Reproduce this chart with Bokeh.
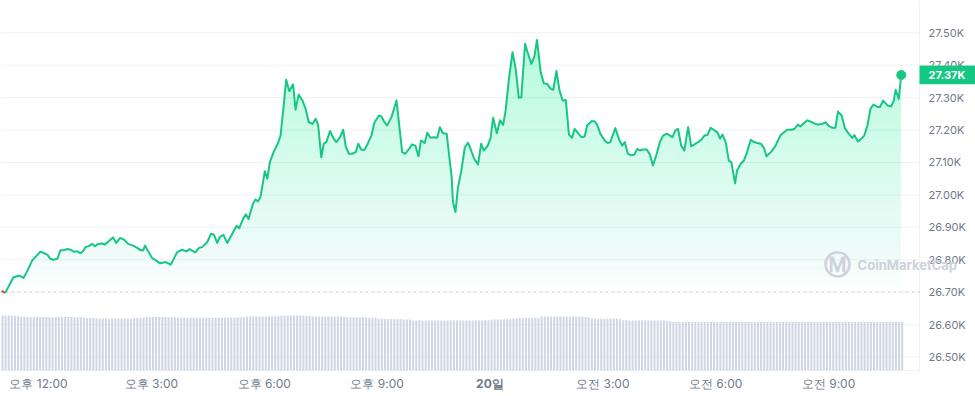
import numpy as np
from bokeh.plotting import figure
from bokeh.models import Range1d, Label
from bokeh.core.properties import value
from bokeh.embed import file_html
from bokeh.resources import INLINE

# ---- data (minutes after 11:00, USD price) ----
t_min = [1, 7, 20, 26, 30, 36, 42, 50, 55, 63, 69, 74, 79, 84, 90, 95, 100, 106, 111, 116,
         122, 127, 132, 135, 140, 146, 150, 155, 161, 166, 170, 179, 184, 190, 196, 203, 212, 218, 223, 227,
         230, 234, 241, 247, 254, 263, 271, 281, 289, 296, 301, 310, 316, 321, 329, 335, 340, 345, 349, 355,
         361, 369, 376, 380, 387, 391, 395, 402, 406, 410, 414, 421, 425, 429, 435, 442, 446, 450, 455, 460,
         466, 470, 475, 481, 486, 491, 497, 502, 506, 511, 515, 519, 525, 530, 535, 541, 546, 550, 555, 560,
         566, 570, 575, 580, 585, 591, 596, 603, 607, 611, 616, 623, 631, 640, 645, 651, 656, 661, 666, 670,
         676, 680, 685, 691, 696, 700, 705, 711, 714, 719, 721, 725, 729, 734, 740, 745, 750, 755, 761, 766,
         770, 776, 781, 785, 791, 796, 801, 805, 810, 816, 821, 826, 830, 836, 840, 846, 851, 855, 861, 866,
         871, 877, 881, 886, 891, 896, 901, 906, 911, 915, 921, 926, 931, 935, 942, 947, 951, 956, 963, 968,
         972, 980, 986, 991, 995, 1000, 1005, 1010, 1015, 1019, 1024, 1030, 1035, 1040, 1046, 1051, 1056, 1062, 1071, 1076,
         1080, 1085, 1090, 1096, 1101, 1106, 1112, 1117, 1122, 1127, 1132, 1137, 1143, 1147, 1151, 1156, 1161, 1165, 1171, 1174,
         1180, 1185, 1190, 1196, 1201, 1206, 1212, 1217, 1221, 1228, 1235, 1243, 1249, 1254, 1261, 1266, 1271, 1275, 1286, 1294,
         1302, 1310, 1315, 1321, 1326, 1331, 1335, 1341, 1346, 1352, 1358, 1361, 1367, 1372, 1377, 1382, 1387, 1392, 1398, 1402,
         1407, 1414, 1420, 1424, 1427, 1432, 1436]

price = [26704, 26698, 26746, 26749, 26751, 26744, 26765, 26798, 26808, 26825, 26820, 26816, 26803, 26800, 26803, 26829, 26829, 26833, 26831, 26825,
         26826, 26820, 26829, 26839, 26842, 26849, 26842, 26849, 26850, 26847, 26854, 26869, 26852, 26867, 26863, 26849, 26843, 26836, 26829, 26829,
         26844, 26829, 26806, 26798, 26789, 26793, 26785, 26823, 26831, 26826, 26833, 26823, 26837, 26839, 26854, 26880, 26877, 26852, 26870, 26877,
         26852, 26880, 26905, 26897, 26929, 26940, 26926, 26973, 26986, 26980, 26993, 27073, 27050, 27101, 27132, 27160, 27183, 27255, 27355, 27320,
         27341, 27263, 27310, 27291, 27266, 27224, 27219, 27235, 27216, 27116, 27158, 27163, 27197, 27176, 27163, 27178, 27201, 27150, 27127, 27127,
         27132, 27158, 27139, 27139, 27158, 27183, 27224, 27245, 27242, 27227, 27214, 27240, 27291, 27132, 27127, 27142, 27156, 27152, 27119, 27168,
         27160, 27192, 27176, 27178, 27176, 27209, 27190, 27189, 27137, 27055, 26978, 26947, 27024, 27070, 27147, 27161, 27137, 27111, 27094, 27158,
         27137, 27150, 27175, 27238, 27190, 27230, 27216, 27260, 27353, 27440, 27389, 27300, 27301, 27466, 27440, 27404, 27427, 27478, 27378, 27344,
         27343, 27327, 27324, 27382, 27322, 27291, 27293, 27186, 27176, 27204, 27189, 27178, 27180, 27214, 27227, 27227, 27217, 27189, 27168, 27160,
         27163, 27206, 27170, 27152, 27163, 27127, 27122, 27124, 27142, 27137, 27140, 27140, 27125, 27091, 27127, 27163, 27183, 27189, 27178, 27199,
         27204, 27152, 27137, 27209, 27150, 27156, 27163, 27170, 27183, 27185, 27207, 27201, 27192, 27174, 27186, 27163, 27106, 27101, 27036, 27075,
         27096, 27106, 27132, 27170, 27163, 27160, 27158, 27145, 27119, 27132, 27150, 27183, 27193, 27201, 27201, 27204, 27217, 27211, 27230, 27224,
         27217, 27219, 27224, 27212, 27207, 27207, 27257, 27245, 27206, 27189, 27176, 27185, 27165, 27173, 27183, 27214, 27266, 27279, 27271, 27271,
         27291, 27276, 27273, 27291, 27324, 27296, 27370]

# 5-minute volume bars (relative units)
vol = [15.2, 15.2, 15.2, 15.1, 15.1, 15.0,
       14.8, 14.8, 14.8, 14.7, 14.8, 14.8, 14.8, 14.8, 14.8, 14.7, 14.7, 14.8, 14.8, 14.8, 14.8, 14.8, 14.8, 14.7, 14.7, 14.7, 14.6, 14.6, 14.6,
       14.5, 14.4, 14.4, 14.4, 14.4, 14.3, 14.4, 14.4, 14.4, 14.4, 14.4, 14.4, 14.4, 14.5, 14.5, 14.5, 14.6,
       14.8, 14.8, 14.8, 14.8, 14.8, 14.8, 14.8, 14.7, 14.7, 14.7, 14.7,
       14.6, 14.6, 14.6, 14.6, 14.6, 14.6, 14.6, 14.6, 14.6, 14.6, 14.6, 14.6, 14.6, 14.6, 14.6, 14.6, 14.6, 14.6, 14.7, 14.7, 14.8,
       14.9, 14.9, 14.9, 14.9, 14.9, 14.9, 14.9, 14.9, 14.9, 15.0, 15.0,
       15.2, 15.2, 15.2, 15.2, 15.2, 15.2, 15.2, 15.2, 15.1, 15.1,
       14.9, 14.9, 14.9, 14.9, 14.9, 14.9, 14.9, 14.9, 14.9, 14.9, 14.8,
       14.7, 14.7, 14.7, 14.7, 14.7, 14.7, 14.7, 14.6, 14.6, 14.6,
       14.3, 14.3, 14.2, 14.2, 14.2, 14.2, 14.2, 14.2, 14.1, 14.1, 14.1,
       13.8, 13.8, 13.9, 13.8, 13.8, 13.8, 13.7, 13.8, 13.8, 13.8, 13.8, 13.8, 13.8, 13.8, 13.8, 13.8, 13.8, 13.8, 13.8, 13.8, 13.8, 13.8, 13.8, 13.9, 13.9,
       14.1, 14.1, 14.1, 14.1, 14.1, 14.2, 14.2,
       14.4, 14.4, 14.5, 14.5, 14.5, 14.5, 14.5, 14.6, 14.6,
       14.9, 14.9, 14.9, 14.9, 14.9, 14.9, 14.9, 14.9, 14.9, 14.9, 14.9, 14.9, 14.9, 14.9, 14.8, 14.7,
       14.4, 14.3, 14.3, 14.3, 14.3, 14.3, 14.3, 14.3, 14.3, 14.2,
       13.9, 13.9, 13.8, 13.8, 13.8, 13.8, 13.8, 13.8, 13.8, 13.8, 13.8, 13.8, 13.8, 13.8, 13.7, 13.6,
       13.4, 13.4, 13.4, 13.4, 13.4, 13.4, 13.4, 13.4, 13.4, 13.4, 13.4, 13.4, 13.4, 13.4, 13.4, 13.4, 13.4, 13.4, 13.4, 13.4,
       13.4, 13.4, 13.4, 13.4, 13.4, 13.4, 13.4, 13.4, 13.4, 13.4, 13.4, 13.4, 13.4, 13.4, 13.4, 13.4, 13.4, 13.4, 13.4, 13.4,
       13.4, 13.4, 13.4, 13.4, 13.4, 13.4, 13.4, 13.4, 13.4, 13.4, 13.4, 13.4, 13.4, 13.4, 13.4, 13.4, 13.4, 13.4, 13.4, 13.4,
       13.4, 13.4, 13.4, 13.4, 13.4, 13.4, 13.4, 13.4, 13.4, 13.4, 13.4, 13.4, 13.4, 13.4]
vol_t = [2.5 + 5 * i for i in range(len(vol))]

x_ticks = [60, 240, 420, 600, 780, 960, 1140, 1320]
x_tick_labels = ["오후 12:00", "오후 3:00", "오후 6:00", "오후 9:00", "20일", "오전 3:00", "오전 6:00", "오전 9:00"]
x_tick_styles = ["normal", "normal", "normal", "normal", "bold", "normal", "normal", "normal"]
y_ticks = [26500, 26600, 26700, 26800, 26900, 27000, 27100, 27200, 27300, 27400, 27500]
y_tick_labels = ["26.50K", "26.60K", "26.70K", "26.80K", "26.90K", "27.00K", "27.10K", "27.20K", "27.30K", "27.40K", "27.50K"]
open_price = 26700
last_label = "27.37K"

GREEN = "#16c784"
RED = "#ea3943"
GRID = "#eff2f5"
TXT = "#707a8a"
WM = "#cdd2db"

X0, X1 = -0.6, 1554.4      # full canvas width
X_EDGE = 1465.1            # right edge of the price area (axis separator)
Y0, Y1 = 26378.3, 27599.6  # full canvas height
Y_BASE = 26458.5           # bottom of the price/volume area
TAG_HALF = 29              # half height of the price tag (price units, ~9.5 px)

p = figure(width=975, height=396, x_range=Range1d(X0, X1), y_range=Range1d(Y0, Y1),
           x_axis_location=None, y_axis_location=None, toolbar_location=None, output_backend="svg",
           min_border_left=0, min_border_top=0, min_border_right=0, min_border_bottom=0)
p.outline_line_color = None
p.background_fill_color = "white"
p.grid.grid_line_color = None
# volume scale: 0 sits on the bottom of the price area
p.extra_y_ranges = {"vol": Range1d(-7.19, 102.27)}

# horizontal gridlines (price area only), separator and base line
p.segment(x0=[X0] * len(y_ticks), x1=[X_EDGE] * len(y_ticks), y0=y_ticks, y1=y_ticks,
          line_color=GRID, line_width=1)
p.segment(x0=[X_EDGE], x1=[X_EDGE], y0=[Y_BASE], y1=[Y1], line_color=GRID, line_width=1)
p.segment(x0=[X0], x1=[X_EDGE], y0=[Y_BASE], y1=[Y_BASE], line_color=GRID, line_width=1)

# volume bars
p.vbar(x=vol_t, top=vol, bottom=0, width=3.2, y_range_name="vol",
       fill_color="#cfd6e4", line_color=None)

# gradient fill under the price line (stacked translucent layers)
t = np.array(t_min, dtype=float)
pr = np.array(price, dtype=float)
N = 40
edges = np.linspace(open_price, Y1, N + 1)
prev_c = 0.0
for k in range(N):
    lo = edges[k]
    mid = 0.5 * (edges[k] + edges[k + 1])
    c = 0.30 * ((mid - open_price) / (Y1 - open_price)) ** 0.8
    a = 1 - (1 - c) / (1 - prev_c)
    prev_c = c
    top = np.maximum(pr, lo)
    if (top > lo).any():
        p.varea(x=t, y1=np.full_like(t, lo), y2=top, fill_color=GREEN, fill_alpha=a)

# opening price dotted line
p.segment(x0=[X0], x1=[X_EDGE], y0=[open_price], y1=[open_price], line_color="#9aa2b1",
          line_dash="1 5", line_width=1)

# price line
p.line(t_min[:2], price[:2], line_color=RED, line_width=2)
p.line(t_min[1:], price[1:], line_color=GREEN, line_width=2, line_join="round")
p.scatter([t_min[-1]], [price[-1]], size=9, color=GREEN)

# y tick labels (right side)
p.text(x=[X_EDGE] * len(y_ticks), y=y_ticks, text=y_tick_labels, x_offset=9,
       text_baseline="middle", text_align="left", text_font=value("Inter"),
       text_font_size="11px", text_color=TXT)

# x tick labels (below the volume bars)
p.text(x=x_ticks, y=[Y_BASE] * len(x_ticks), text=x_tick_labels, y_offset=13,
       text_baseline="middle", text_align="center", text_font=value("Inter"),
       text_font_style=x_tick_styles, text_font_size="12px", text_color=TXT)

# watermark
p.add_layout(Label(x=1334.3, y=26785, text="Ⓜ", text_font="DejaVu Sans", text_font_style="bold",
                   text_font_size="27px", text_color=WM, text_align="center", text_baseline="middle"))
p.add_layout(Label(x=1366.3, y=26785, text="CoinMarketCap", text_font="Inter", text_font_style="bold",
                   text_font_size="13px", text_color=WM, text_baseline="middle"))

# last price tag
p.quad(left=[X_EDGE], right=[X1], bottom=[price[-1] - TAG_HALF], top=[price[-1] + TAG_HALF],
       fill_color=GREEN, line_color=None)
p.text(x=[X_EDGE], y=[price[-1]], text=[last_label], x_offset=9, text_baseline="middle",
       text_align="left", text_font=value("Inter"), text_font_style="bold",
       text_font_size="11px", text_color="white")

open("out.html", "w").write(file_html(p, INLINE))
